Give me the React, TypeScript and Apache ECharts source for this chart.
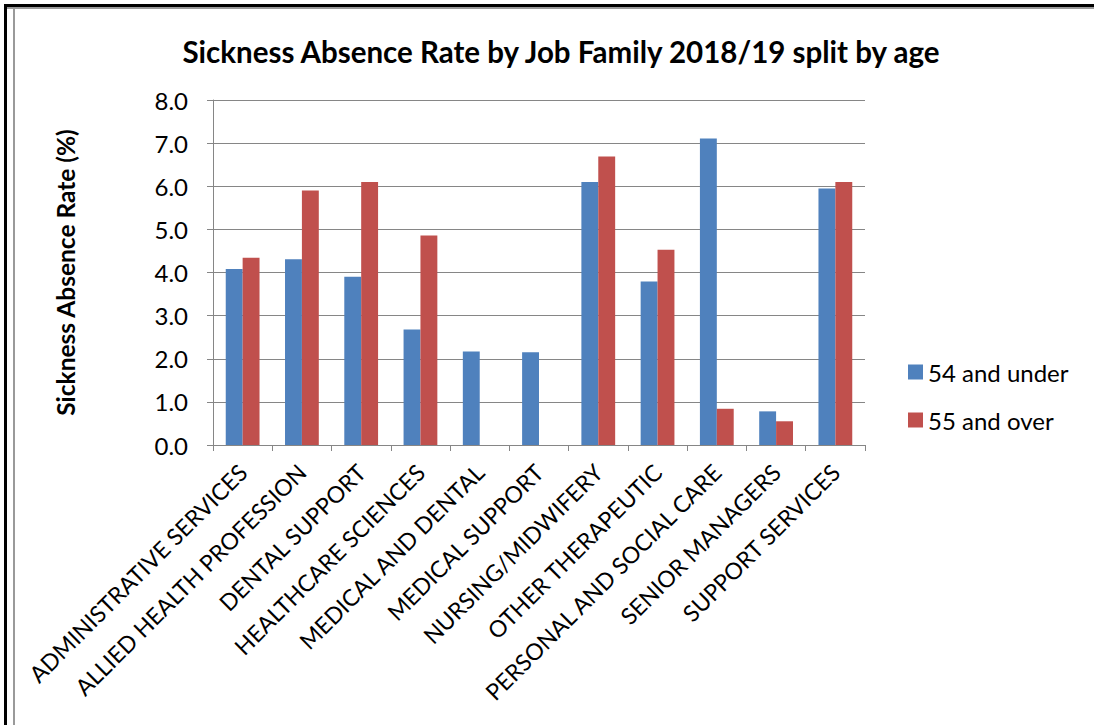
import React, { useEffect, useRef } from "react";
import * as echarts from "echarts";

const categories = [
  "ADMINISTRATIVE SERVICES",
  "ALLIED HEALTH PROFESSION",
  "DENTAL SUPPORT",
  "HEALTHCARE SCIENCES",
  "MEDICAL AND DENTAL",
  "MEDICAL SUPPORT",
  "NURSING/MIDWIFERY",
  "OTHER THERAPEUTIC",
  "PERSONAL AND SOCIAL CARE",
  "SENIOR MANAGERS",
  "SUPPORT SERVICES",
];
const under54 = [4.08, 4.31, 3.9, 2.68, 2.17, 2.15, 6.1, 3.79, 7.11, 0.78, 5.95];
const over55 = [4.34, 5.9, 6.1, 4.86, null, null, 6.69, 4.53, 0.84, 0.55, 6.1];
const seriesNames = ["54 and under", "55 and over"];
const seriesColors = ["#4F81BD", "#C0504D"];
const titleText = "Sickness Absence Rate by Job Family 2018/19 split by age";
const yAxisName = "Sickness Absence Rate (%)";
const yMin = 0;
const yMax = 8;
const yStep = 1;

const FONT = "Lato, 'Open Sans', sans-serif";

export default function App() {
  const ref = useRef<HTMLDivElement>(null);
  useEffect(() => {
    if (!ref.current) return;
    const chart = echarts.init(ref.current, null, { renderer: "svg" });
    chart.setOption({
      animation: false,
      backgroundColor: "#ffffff",
      title: {
        text: titleText,
        left: 556,
        top: 31,
        textAlign: "center",
        textStyle: { fontFamily: FONT, fontSize: 29.5, fontWeight: "bold", color: "#000" },
      },
      legend: {
        orient: "vertical",
        left: 903,
        top: 355,
        itemWidth: 15,
        itemHeight: 15,
        itemGap: 24,
        icon: "rect",
        textStyle: { fontFamily: FONT, fontSize: 24, color: "#000" },
        data: seriesNames,
      },
      grid: { left: 213, right: 229, top: 100, bottom: 280, containLabel: false },
      xAxis: {
        type: "category",
        data: categories,
        axisLine: { lineStyle: { color: "#868686", width: 1 } },
        axisTick: { show: true, length: 6, lineStyle: { color: "#868686" } },
        axisLabel: {
          rotate: 45,
          margin: 23,
          interval: 0,
          fontFamily: FONT,
          fontSize: 23,
          color: "#000",
        },
      },
      yAxis: {
        type: "value",
        min: yMin,
        max: yMax,
        interval: yStep,
        name: yAxisName,
        nameLocation: "middle",
        nameGap: 135,
        nameRotate: 90,
        nameTextStyle: { fontFamily: FONT, fontSize: 24.5, fontWeight: "bold", color: "#000" },
        axisLine: { show: true, lineStyle: { color: "#868686", width: 1 } },
        axisTick: { show: true, length: 6, lineStyle: { color: "#868686" } },
        axisLabel: {
          margin: 25,
          fontFamily: FONT,
          fontSize: 24,
          color: "#000",
          formatter: (v: number) => v.toFixed(1),
        },
        splitLine: { lineStyle: { color: "#868686", width: 1 } },
      },
      series: [
        {
          name: seriesNames[0],
          type: "bar",
          data: under54,
          barGap: "0%",
          barCategoryGap: "43%",
          itemStyle: { color: seriesColors[0] },
        },
        {
          name: seriesNames[1],
          type: "bar",
          data: over55,
          itemStyle: { color: seriesColors[1] },
        },
      ],
      graphic: [
        { type: "rect", shape: { x: 4, y: 4, width: 1090, height: 3 }, style: { fill: "#000" }, silent: true },
        { type: "rect", shape: { x: 4, y: 4, width: 3, height: 721 }, style: { fill: "#000" }, silent: true },
        { type: "rect", shape: { x: 7, y: 7, width: 1087, height: 2 }, style: { fill: "#9a9a9a" }, silent: true },
        { type: "rect", shape: { x: 13, y: 7, width: 2, height: 718 }, style: { fill: "#9a9a9a" }, silent: true },
      ],
    });
    return () => chart.dispose();
  }, []);
  return (
    <div
      ref={ref}
      style={{ position: "absolute", left: 0, top: 0, width: 1094, height: 725 }}
    />
  );
}
